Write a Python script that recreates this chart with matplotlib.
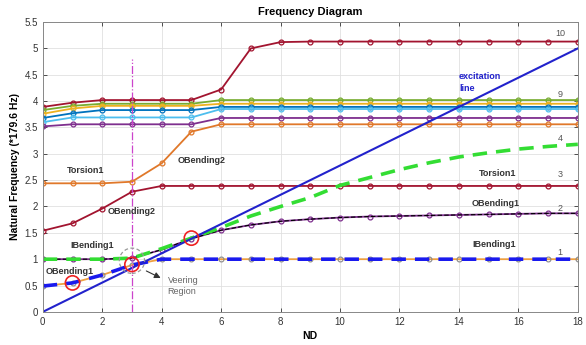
import numpy as np
import matplotlib
matplotlib.use('Agg')
import matplotlib.pyplot as plt
from matplotlib.patches import Ellipse

plt.rcParams['font.family'] = ['Liberation Sans', 'DejaVu Sans']

nd = np.arange(19)

# natural frequencies per mode (normalised by 179.6 Hz)
mode1 = [0.49, 0.55, 0.70, 0.89] + [1.0] * 15
mode2 = [1.0, 1.0, 1.0, 1.02, 1.18, 1.39, 1.55, 1.65, 1.72, 1.76,
         1.79, 1.81, 1.82, 1.83, 1.84, 1.85, 1.86, 1.87, 1.87]
mode3 = [1.54, 1.68, 1.96, 2.28] + [2.39] * 15
mode4 = [2.44, 2.44, 2.44, 2.47, 2.82, 3.42] + [3.56] * 13
mode5 = [3.52, 3.56, 3.56, 3.56, 3.56, 3.56] + [3.68] * 13
mode6 = [3.60, 3.69, 3.69, 3.69, 3.69, 3.69] + [3.85] * 13
mode7 = [3.68, 3.77, 3.83, 3.83, 3.83, 3.83] + [3.89] * 13
mode8 = [3.76, 3.86, 3.91, 3.91, 3.91, 3.91] + [3.95] * 13
mode9 = [3.83, 3.91, 3.95, 3.95, 3.95, 3.95] + [4.02] * 13
mode10 = [3.89, 3.97, 4.02, 4.02, 4.02, 4.02, 4.22, 5.00, 5.12] + [5.13] * 10

# tracked curves
green_track = [1.0, 1.0, 1.0, 1.02, 1.2, 1.4, 1.6, 1.82, 2.0, 2.17,
               2.4, 2.55, 2.7, 2.83, 2.94, 3.02, 3.09, 3.14, 3.18]
blue_track = mode1

excit_x = [0, 18]
excit_y = [0, 5.0]

crossings_x = [1, 3, 5]
crossings_y = [0.55, 0.9, 1.4]

fig = plt.figure(figsize=(5.86, 3.45), dpi=100)
ax = fig.add_axes([0.073, 0.096, 0.913, 0.84])

mk = dict(marker='o', markersize=3.5, markerfacecolor='none', markeredgewidth=0.9)

ax.plot(nd, mode10, color='#A2142F', lw=1.3, **mk)
ax.plot(nd, mode9, color='#77AC30', lw=1.3, **mk)
ax.plot(nd, mode8, color='#EDB120', lw=1.3, **mk)
ax.plot(nd, mode7, color='#0072BD', lw=1.3, **mk)
ax.plot(nd, mode6, color='#4DBEEE', lw=1.3, **mk)
ax.plot(nd, mode5, color='#7E2F8E', lw=1.3, **mk)
ax.plot(nd, mode4, color='#E0782A', lw=1.3, **mk)
ax.plot(nd, mode3, color='#A2142F', lw=1.3, **mk)
ax.plot(nd, mode2, color='#7E2F8E', lw=1.3, **mk)
ax.plot(nd, mode2, color='black', lw=0.8, ls=(0, (4, 2)))
ax.plot(nd, mode1, color='#EFA040', lw=1.3, marker='o', markersize=3.5,
        markerfacecolor='none', markeredgecolor='#888888', markeredgewidth=0.8)

ax.plot(nd, green_track, color='#33DD33', lw=2.6, ls=(0, (4, 2.5)))
ax.plot(nd, blue_track, color='#1A1AEE', lw=2.6, ls=(0, (4, 2.5)))

ax.plot(excit_x, excit_y, color='#2222CC', lw=1.5)
ax.plot([3, 3], [0, 4.8], color='#CC44CC', lw=0.9, ls='-.')

for cx, cy in zip(crossings_x, crossings_y):
    ax.add_patch(Ellipse((cx, cy), 0.48, 0.27, fill=False, ec='#EE2222', lw=1.2, zorder=5))
ax.add_patch(Ellipse((3, 0.97), 0.85, 0.48, fill=False, ec='#999999', lw=0.9,
                     ls=(0, (3, 2)), zorder=5))
ax.annotate('', xy=(4.05, 0.62), xytext=(3.4, 0.8),
            arrowprops=dict(arrowstyle='-|>', color='#333333', lw=0.8, mutation_scale=9))
ax.text(4.2, 0.49, 'Veering\nRegion', fontsize=6.5, color='#666666', va='center',
        linespacing=1.4)

lab = dict(fontsize=6.5, fontweight='bold', color='#333333', ha='center', va='center')
ax.text(1.45, 2.69, 'Torsion1', **lab)
ax.text(5.35, 2.88, 'OBending2', **lab)
ax.text(3.0, 1.9, 'OBending2', **lab)
ax.text(1.65, 1.26, 'IBending1', **lab)
ax.text(0.92, 0.77, 'OBending1', **lab)
ax.text(15.3, 2.63, 'Torsion1', **lab)
ax.text(15.25, 2.06, 'OBending1', **lab)
ax.text(15.2, 1.27, 'IBending1', **lab)
ax.text(14.0, 4.35, 'excitation\nline', fontsize=6.5, fontweight='bold',
        color='#2222CC', ha='left', va='center', linespacing=1.4)

for txt, yy in [('10', 5.29), ('9', 4.13), ('4', 3.29), ('3', 2.6), ('2', 1.97), ('1', 1.12)]:
    ax.text(17.4, yy, txt, fontsize=6.5, color='#555555', ha='center', va='center')

ax.set_xlim(0, 18)
ax.set_ylim(0, 5.5)
ax.set_xticks(np.arange(0, 19, 2))
ax.set_yticks(np.arange(0, 5.51, 0.5))
ax.set_yticklabels(['0', '0.5', '1', '1.5', '2', '2.5', '3', '3.5', '4', '4.5', '5', '5.5'])
ax.tick_params(labelsize=7, direction='in', top=True, right=True, length=3,
               colors='#333333', width=0.6)
ax.grid(True, color='#E0E0E0', lw=0.6)
for sp in ax.spines.values():
    sp.set_color('#888888')
    sp.set_linewidth(0.7)

ax.set_title('Frequency Diagram', fontsize=8, fontweight='bold', pad=5)
ax.set_xlabel('ND', fontsize=7.5, fontweight='bold', labelpad=3)
ax.set_ylabel('Natural Frequency (*179.6 Hz)', fontsize=7.5, fontweight='bold', labelpad=3)

fig.savefig('out.png', dpi=100)
